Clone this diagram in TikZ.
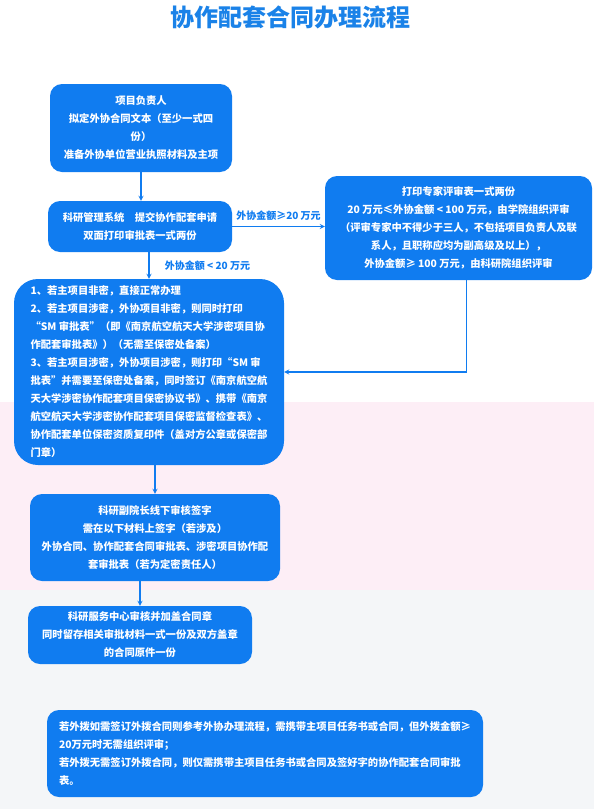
\documentclass[tikz,border=0pt]{standalone}
\usepackage{fontspec}
\setmainfont{Noto Sans CJK SC}
\definecolor{boxblue}{RGB}{16,124,240}
\definecolor{titleblue}{RGB}{26,130,232}
\definecolor{pinkbg}{RGB}{253,238,246}
\definecolor{graybg}{RGB}{244,246,248}
\begin{document}
\begin{tikzpicture}[x=1pt, y=-1pt, >=stealth,
    box/.style={fill=boxblue, text=white, rounded corners=12pt, inner sep=0pt,
      align=center, font=\bfseries\fontsize{10.3}{18}\selectfont},
    flow/.style={->, draw=boxblue, line width=1.2pt},
    tag/.style={text=boxblue, font=\bfseries\fontsize{10}{12}\selectfont}]
    % page and background bands
    \useasboundingbox (0,0) rectangle (594,809);
    \fill[white] (0,0) rectangle (594,402);
    \fill[pinkbg] (0,402) rectangle (594,590);
    \fill[graybg] (0,590) rectangle (594,809);

    \node[text=titleblue, font=\bfseries\fontsize{24}{28}\selectfont] (title) at (290,17) {协作配套合同办理流程};

    % boxes
    \node[box, minimum width=182, minimum height=88] (lead) at (141,128)
        {项目负责人\\拟定外协合同文本（至少一式四\\份）\\准备外协单位营业执照材料及主项};
    \node[box, minimum width=184, minimum height=51] (submit) at (140,226.5)
        {科研管理系统\quad 提交协作配套申请\\双面打印审批表一式两份};
    \node[box, minimum width=267, minimum height=104] (expert) at (458.5,228)
        {打印专家评审表一式两份\\20 万元≤外协金额 < 100 万元，由学院组织评审\\（评审专家中不得少于三人，不包括项目负责人及联\\系人，且职称应均为副高级及以上），\\外协金额≥ 100 万元，由科研院组织评审};
    \node[box, rounded corners=24pt, align=left, minimum width=270, minimum height=186] (secret) at (149,372)
        {1、若主项目非密，直接正常办理\\2、若主项目涉密，外协项目非密，则同时打印\\“SM 审批表”（即《南京航空航天大学涉密项目协\\作配套审批表》）（无需至保密处备案）\\3、若主项目涉密，外协项目涉密，则打印“SM 审\\批表”并需要至保密处备案，同时签订《南京航空航\\天大学涉密协作配套项目保密协议书》、携带《南京\\航空航天大学涉密协作配套项目保密监督检查表》、\\协作配套单位保密资质复印件（盖对方公章或保密部\\门章）};
    \node[box, minimum width=250, minimum height=87] (approve) at (155,537.5)
        {科研副院长线下审核签字\\需在以下材料上签字（若涉及）\\外协合同、协作配套合同审批表、涉密项目协作配\\套审批表（若为定密责任人）};
    \node[box, minimum width=224, minimum height=58] (stamp) at (140,635)
        {科研服务中心审核并加盖合同章\\同时留存相关审批材料一式一份及双方盖章\\的合同原件一份};
    \node[box, align=left, minimum width=436, minimum height=87] (transfer) at (265,753.5)
        {若外拨如需签订外拨合同则参考外协办理流程，需携带主项目任务书或合同，但外拨金额≥\\20万元时无需组织评审；\\若外拨无需签订外拨合同，则仅需携带主项目任务书或合同及签好字的协作配套合同审批\\表。};

    % connectors
    \draw[flow] (lead.south) -- (lead.south |- submit.north);
    \draw[flow] (submit.east) -- (submit.east -| expert.west)
        node[tag, midway, above=2pt] (big) {外协金额≥20 万元};
    \draw[flow] (submit.south -| secret.north) -- (secret.north)
        node[tag, midway, right=12pt] (small) {外协金额 < 20 万元};
    \draw[flow] ([xshift=8pt]expert.south) |- (secret.east);
    \draw[flow] (secret.south -| approve.north) -- (approve.north);
    \draw[flow] (approve.south -| stamp.north) -- (stamp.north);
\end{tikzpicture}
\end{document}
